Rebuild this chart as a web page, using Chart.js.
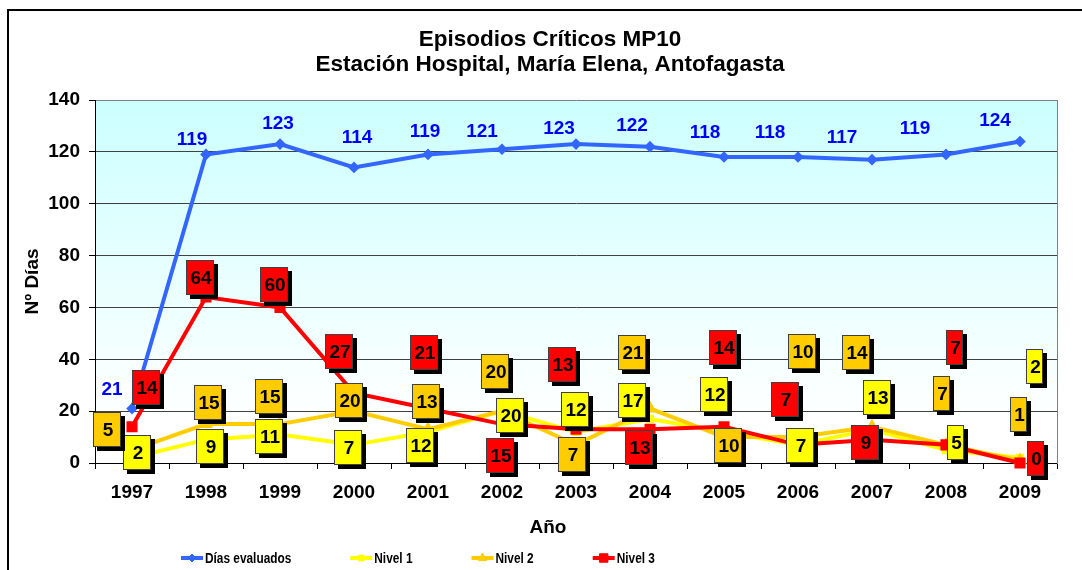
<!DOCTYPE html>
<html>
<head>
<meta charset="utf-8">
<title>Episodios Críticos MP10</title>
<script src="https://cdn.jsdelivr.net/npm/chart.js@4/dist/chart.umd.min.js"></script>
<style>
  html, body { margin: 0; padding: 0; background: #fff; overflow: hidden; }
  #frame { position: absolute; left: 7px; top: 9px; width: 1200px; height: 700px; border: 2px solid #000; }
  #chart { position: absolute; left: 0; top: 0; }
</style>
</head>
<body>
<div id="frame"></div>
<canvas id="chart" width="1100" height="570"></canvas>
<script>
var years = ["1997", "1998", "1999", "2000", "2001", "2002", "2003", "2004", "2005", "2006", "2007", "2008", "2009"];
var diasEvaluados = [21, 119, 123, 114, 119, 121, 123, 122, 118, 118, 117, 119, 124];
var nivel1 = [2, 9, 11, 7, 12, 20, 12, 17, 12, 7, 13, 5, 2];
var nivel2 = [5, 15, 15, 20, 13, 20, 7, 21, 10, 10, 14, 7, 1];
var nivel3 = [14, 64, 60, 27, 21, 15, 13, 13, 14, 7, 9, 7, 0];
var yTicks = [0, 20, 40, 60, 80, 100, 120, 140];

// where each value label sits, in pixels from its point
var nudgeDias = [[-20,-20],[-14,-16],[-2,-21],[3,-31],[-3,-24],[-20,-18],[-17,-16],[-18,-22],[-19,-25],[-28,-25],[-30,-23],[-31,-27],[-25,-22]];
var nudgeN1 = [[5,-5],[4,7],[-11,2],[-6,3],[-8,14],[8,4],[-1,-22],[-18,-18],[-10,-37],[2,1],[5,-32],[9,-8],[14,-91]];
var nudgeN2 = [[-25,-21],[2,-22],[-11,-28],[-5,-11],[-2,-28],[-7,-40],[-4,10],[-18,-56],[4,8],[4,-86],[-16,-74],[-5,-51],[-2,-46]];
var nudgeN3 = [[14,-39],[-6,-20],[-6,-23],[-15,-41],[-4,-56],[-2,31],[-14,-65],[-11,18],[-1,-79],[-13,-45],[-7,3],[8,-97],[15,-5]];

var FONT = "'Liberation Sans', Arial, sans-serif";

Chart.defaults.font.family = FONT;
Chart.defaults.font.size = 19;
Chart.defaults.font.weight = "bold";
Chart.defaults.color = "#000";

// light cyan fading to white behind the plot
var plotBackground = {
  id: "plotBackground",
  beforeDraw: function(chart) {
    var a = chart.chartArea, ctx = chart.ctx;
    var g = ctx.createLinearGradient(0, a.top, 0, a.bottom);
    g.addColorStop(0, "rgb(204,255,255)");
    g.addColorStop(0.88, "#ffffff");
    ctx.save();
    ctx.fillStyle = g;
    ctx.fillRect(a.left, a.top, a.right - a.left, a.bottom - a.top);
    ctx.restore();
  }
};

// value labels: plain blue text for the first series, shadowed boxes for the levels
var valueLabels = {
  id: "valueLabels",
  afterDatasetsDraw: function(chart) {
    var ctx = chart.ctx;
    ctx.save();
    ctx.font = "bold 19px " + FONT;
    ctx.textAlign = "center";
    ctx.textBaseline = "middle";
    chart.data.datasets.forEach(function(ds, d) {
      var meta = chart.getDatasetMeta(d);
      meta.data.forEach(function(pt, i) {
        var cx = pt.x + ds.labelNudge[i][0];
        var cy = pt.y + ds.labelNudge[i][1];
        var txt = String(ds.data[i]);
        if (!ds.boxColor) {
          ctx.fillStyle = "#0000ff";
          ctx.fillText(txt, cx, cy + 1);
          return;
        }
        var w = i >= 11 ? 17 : 28, h = 35;
        var x0 = Math.round(cx - w / 2), y0 = Math.round(cy - h / 2);
        ctx.fillStyle = "#000";
        ctx.fillRect(x0 + 4, y0 + 4, w, h);
        ctx.fillStyle = ds.boxColor;
        ctx.fillRect(x0, y0, w, h);
        ctx.strokeStyle = "#404040";
        ctx.lineWidth = 1;
        ctx.strokeRect(x0 + 0.5, y0 + 0.5, w - 1, h - 1);
        ctx.fillStyle = "#000";
        ctx.fillText(txt, x0 + w / 2 + 1, y0 + h / 2 + 1);
      });
    });
    ctx.restore();
  }
};

// x axis title and the legend row along the bottom
var bottomRow = {
  id: "bottomRow",
  afterDraw: function(chart) {
    var ctx = chart.ctx;
    ctx.save();
    ctx.fillStyle = "#000";
    ctx.font = "bold 19px " + FONT;
    ctx.textAlign = "center";
    ctx.textBaseline = "middle";
    ctx.fillText("Año", 548, 528);

    var x = 181, y = 558;
    ctx.font = "bold 15px " + FONT;
    ctx.textAlign = "left";
    chart.data.datasets.forEach(function(ds) {
      ctx.strokeStyle = ds.borderColor;
      ctx.lineWidth = 4;
      ctx.beginPath();
      ctx.moveTo(x, y);
      ctx.lineTo(x + 22, y);
      ctx.stroke();
      ctx.fillStyle = ds.borderColor;
      ctx.lineWidth = 1;
      Chart.helpers.drawPoint(ctx, { pointStyle: ds.pointStyle, radius: ds.pointRadius + 1, rotation: 0, borderWidth: 1 }, x + 11, y);
      var tw = ctx.measureText(ds.label).width * 0.79;
      ctx.save();
      ctx.translate(x + 24, y + 1);
      ctx.scale(0.79, 1);
      ctx.fillStyle = "#000";
      ctx.fillText(ds.label, 0, 0);
      ctx.restore();
      x += 24 + tw + 59;
    });
    ctx.restore();
  }
};

new Chart(document.getElementById("chart").getContext("2d"), {
  type: "line",
  data: {
    labels: years,
    datasets: [
      {
        label: "Días evaluados", data: diasEvaluados, yAxisID: "y", order: 0,
        borderColor: "#3366ff", backgroundColor: "#3366ff", borderWidth: 4,
        pointStyle: "rectRot", pointRadius: 3, labelNudge: nudgeDias
      },
      {
        label: "Nivel 1", data: nivel1, yAxisID: "y", order: 3,
        borderColor: "#ffff00", backgroundColor: "#ffff00", borderWidth: 4,
        pointStyle: "rect", pointRadius: 3, labelNudge: nudgeN1, boxColor: "#ffff00"
      },
      {
        label: "Nivel 2", data: nivel2, yAxisID: "y", order: 2,
        borderColor: "#ffcc00", backgroundColor: "#ffcc00", borderWidth: 4,
        pointStyle: "triangle", pointRadius: 4, labelNudge: nudgeN2, boxColor: "#ffcc00"
      },
      {
        label: "Nivel 3", data: nivel3, yAxisID: "y", order: 1,
        borderColor: "#ff0000", backgroundColor: "#ff0000", borderWidth: 4,
        pointStyle: "rect", pointRadius: 5, labelNudge: nudgeN3, boxColor: "#ff0000"
      }
    ]
  },
  options: {
    responsive: false,
    animation: false,
    clip: false,
    layout: { padding: 0 },
    elements: { line: { tension: 0 } },
    plugins: {
      legend: { display: false },
      tooltip: { enabled: false },
      title: {
        display: true,
        text: ["Episodios Críticos MP10", "Estación Hospital, María Elena, Antofagasta"],
        color: "#000",
        font: { size: 22.5, weight: "bold", lineHeight: 25 / 22.5 },
        padding: { top: 27.5, bottom: 22.5 }
      }
    },
    scales: {
      x: {
        offset: true,
        grid: { display: true, offset: true, drawOnChartArea: false, drawTicks: true, tickLength: 6, color: "#000" },
        border: { display: true, color: "#000", width: 1 },
        ticks: { padding: 12, maxRotation: 0, autoSkip: false, color: "#000" },
        afterFit: function(s) { s.height = 107; }
      },
      y: {
        position: "left",
        min: yTicks[0],
        max: yTicks[yTicks.length - 1],
        afterBuildTicks: function(s) { s.ticks = yTicks.map(function(v) { return { value: v }; }); },
        ticks: { padding: 9, color: "#000" },
        grid: {
          drawTicks: true, tickLength: 6, tickColor: "#000",
          color: function(c) { return c.tick && c.tick.value === yTicks[yTicks.length - 1] ? "#808080" : "#404040"; }
        },
        border: { display: true, color: "#000", width: 1 },
        title: { display: true, text: "Nº Días", color: "#000", font: { size: 19, weight: "bold" }, padding: { top: 21.6, bottom: 0 } },
        afterFit: function(s) { s.width = 95; }
      },
      yRight: {
        position: "right",
        display: true,
        grid: { display: false },
        ticks: { display: false },
        border: { display: true, color: "#808080", width: 1 },
        afterFit: function(s) { s.width = 43; }
      }
    }
  },
  plugins: [plotBackground, valueLabels, bottomRow]
});
</script>
</body>
</html>
